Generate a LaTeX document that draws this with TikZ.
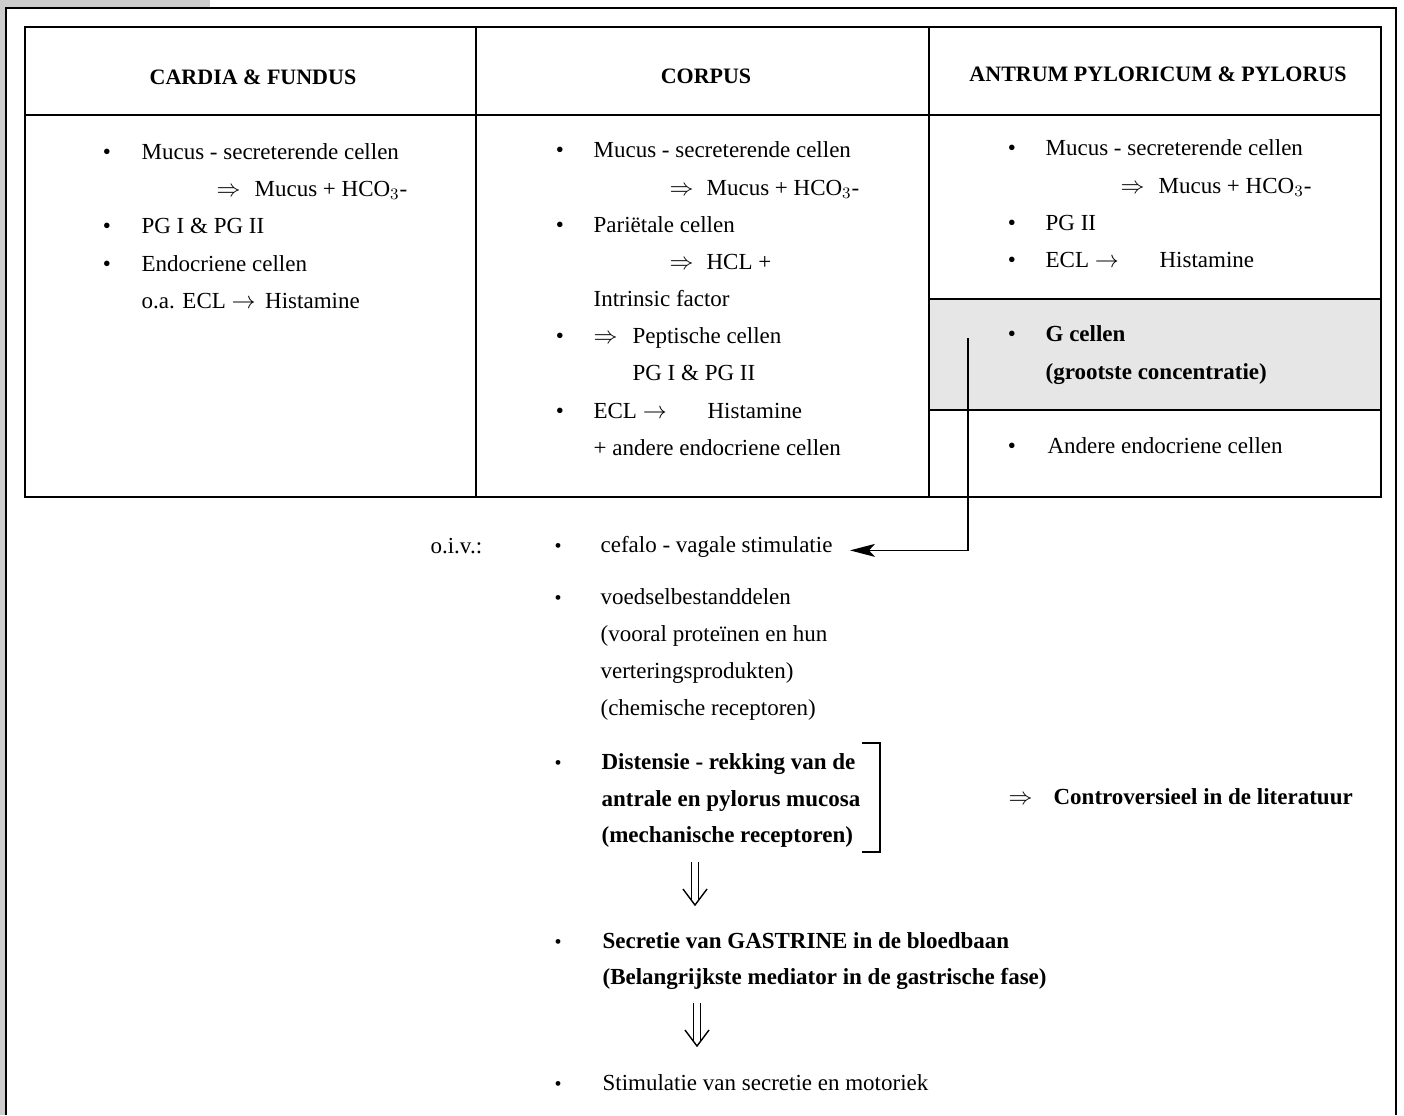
\documentclass[tikz,border=0pt]{standalone}
\usepackage{fontspec}
\setmainfont{Liberation Serif}
\usetikzlibrary{arrows.meta}
\definecolor{scangray}{RGB}{205,205,205}
\definecolor{bandgray}{RGB}{230,230,230}
\tikzset{every picture/.style={line width=0.6pt}}
\tikzset{
  txt/.style={anchor=base west, inner sep=0pt},
  btxt/.style={txt, font=\fontsize{11.5}{13}\selectfont\bfseries},
  head/.style={anchor=base, inner sep=0pt, font=\fontsize{11}{13}\selectfont\bfseries},
  dot/.style={anchor=base, inner sep=0pt},
  sdot/.style={anchor=base, inner sep=0pt, font=\fontsize{10}{10}\selectfont},
  garrow/.style={-{Stealth[length=12.5pt,width=6.5pt,inset=3pt]}},
  dshaft/.style={double, double distance=2.8pt, line width=0.55pt},
  dhead/.style={line width=0.7pt, line join=miter},
}

\begin{document}
\begin{tikzpicture}[x=0.5pt,y=0.5pt,yscale=-1,xscale=1,font=\fontsize{11.5}{13}\selectfont]
\useasboundingbox (0,0) rectangle (1404,1115);

% scan border
\fill[scangray] (0,0) rectangle (5,1115);
\fill[scangray] (0,0) rectangle (210,7);
\draw (6,1115) -- (6,8) -- (1396,8) -- (1396,1115);

% grey band in third column
\fill[bandgray] (929,299) rectangle (1381,410);

% table
\draw (25,27) rectangle (1381,497);
\draw (476,27) -- (476,497);
\draw (929,27) -- (929,497);
\draw (25,115) -- (1381,115);
\draw (929,299) -- (1381,299);
\draw (929,410) -- (1381,410);

% Text Node : headers
\node[head] (hcardia) at (253,84) {CARDIA \& FUNDUS};
\node[head] (hcorpus) at (706,83) {CORPUS};
\node[head] (hantrum) at (1158,81) {ANTRUM PYLORICUM \& PYLORUS};

% Text Node : cardia & fundus
\node[txt] (c1a) at (141,159) {Mucus - secreterende cellen};
\node[txt] (c1b) at (216,196) {\makebox[19pt][l]{$\Rightarrow$}Mucus + HCO$_3$-};
\node[txt] (c1c) at (141,233) {PG I \& PG II};
\node[txt] (c1d) at (141,271) {Endocriene cellen};
\node[txt] (c1e) at (141,308) {o.a. ECL $\rightarrow$\ \,Histamine};

% Text Node : corpus
\node[txt] (c2a) at (593,157) {Mucus - secreterende cellen};
\node[txt] (c2b) at (669,195) {\makebox[18.5pt][l]{$\Rightarrow$}Mucus + HCO$_3$-};
\node[txt] (c2c) at (593,232) {Pariëtale cellen};
\node[txt] (c2d) at (669,269) {\makebox[18.5pt][l]{$\Rightarrow$}HCL +};
\node[txt] (c2e) at (593,306) {Intrinsic factor};
\node[txt] (c2f) at (593,343) {\makebox[19.5pt][l]{$\Rightarrow$}Peptische cellen};
\node[txt] (c2g) at (632,380) {PG I \& PG II};
\node[txt] (c2h) at (593,418) {\makebox[57pt][l]{ECL $\rightarrow$}Histamine};
\node[txt] (c2i) at (593,455) {+ andere endocriene cellen};

% Text Node : antrum pyloricum & pylorus
\node[txt] (c3a) at (1045,155) {Mucus - secreterende cellen};
\node[txt] (c3b) at (1120,193) {\makebox[19pt][l]{$\Rightarrow$}Mucus + HCO$_3$-};
\node[txt] (c3c) at (1045,230) {PG II};
\node[txt] (c3d) at (1045,267) {\makebox[57pt][l]{ECL $\rightarrow$}Histamine};
\node[btxt] (c3e) at (1045,341) {G cellen};
\node[btxt] (c3f) at (1045,379) {(grootste concentratie)};
\node[txt] (c3g) at (1047,453) {Andere endocriene cellen};

% bullets in the table
\foreach \n/\x/\y in {1/107/159, 2/107/233, 3/107/271,
                      4/560/157, 5/560/232, 6/560/343, 7/560/418,
                      8/1012/155, 9/1012/230, 10/1012/267, 11/1012/341, 12/1012/453}
  \node[dot] (tb\n) at (\x,\y) {•};

% Text Node : lower part
\node[txt] (oiv) at (430,553) {o.i.v.:};
\node[txt] (l1) at (600,552) {cefalo - vagale stimulatie};
\node[txt] (l2) at (600,604) {voedselbestanddelen};
\node[txt] (l3) at (600,641) {(vooral proteïnen en hun};
\node[txt] (l4) at (600,678) {verteringsprodukten)};
\node[txt] (l5) at (600,715) {(chemische receptoren)};
\node[btxt] (l6) at (601,769) {Distensie - rekking van de};
\node[btxt] (l7) at (601,806) {antrale en pylorus mucosa};
\node[btxt] (l8) at (601,842) {(mechanische receptoren)};
\node[txt] (contr) at (1008,804) {\makebox[22.5pt][l]{$\Rightarrow$}\textbf{Controversieel in de literatuur}};
\node[btxt] (l9) at (602,948) {Secretie van GASTRINE in de bloedbaan};
\node[btxt] (l10) at (602,984) {(Belangrijkste mediator in de gastrische fase)};
\node[txt] (l11) at (602,1090) {Stimulatie van secretie en motoriek};

% bullets in the lower part
\foreach \n/\y in {1/552, 2/604, 3/769, 4/948, 5/1090}
  \node[sdot] (lb\n) at (558,\y) {•};

% bracket round the distension lines
\draw (862,743) -- (880,743) -- (880,852) -- (862,852);

% G cells to cephalic-vagal stimulation
\coordinate (gtop) at (968,338);
\draw[garrow] (gtop) |- ([xshift=8.5pt,yshift=2pt]l1.east);

% double arrows
\coordinate (d1a) at (695,862);
\coordinate (d1b) at (695,905);
\draw[dshaft] (d1a) -- ([yshift=-2.5pt]d1b);
\draw[dhead] ([shift={(-12,-16)}]d1b) -- (d1b) -- ([shift={(12,-16)}]d1b);
\coordinate (d2a) at (697,1003);
\coordinate (d2b) at (697,1046);
\draw[dshaft] (d2a) -- ([yshift=-2.5pt]d2b);
\draw[dhead] ([shift={(-12,-16)}]d2b) -- (d2b) -- ([shift={(12,-16)}]d2b);

\end{tikzpicture}
\end{document}
